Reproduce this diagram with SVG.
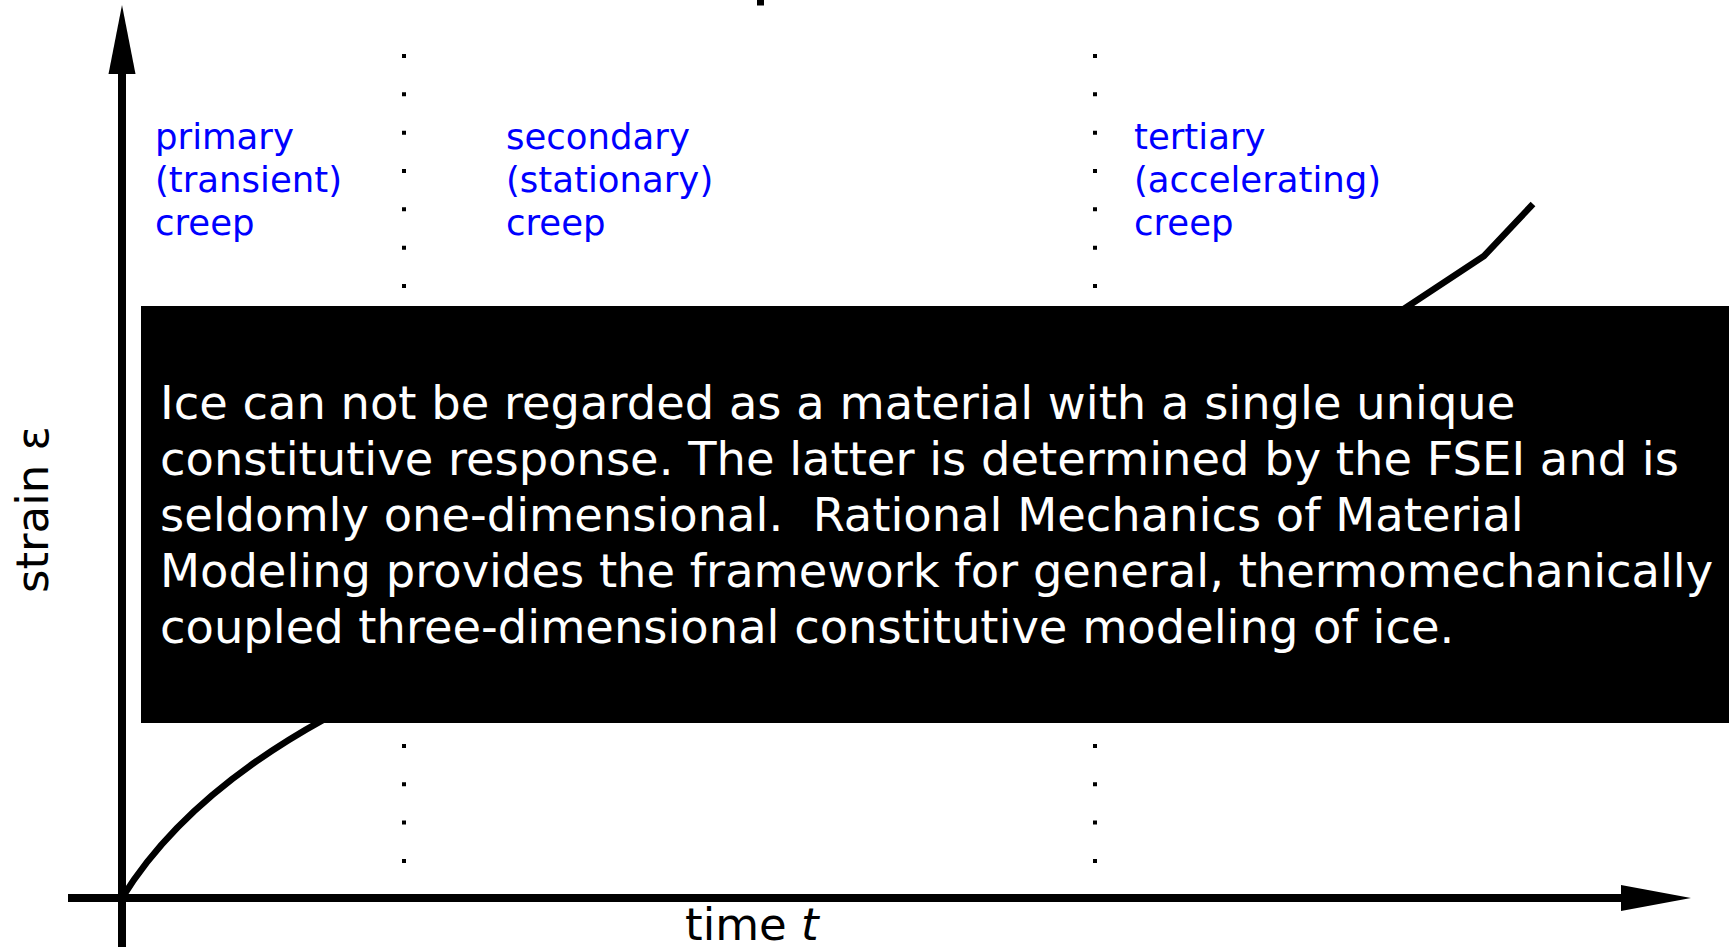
<svg xmlns="http://www.w3.org/2000/svg" width="1729" height="947" viewBox="0 0 1729 947">
  <style>
    .axis { stroke: #000; stroke-width: 8; fill: none; }
    .dots { stroke: #000; stroke-width: 4; stroke-dasharray: 4 34.33; fill: none; }
    .curve { stroke: #000; stroke-width: 6.5; fill: none; stroke-linejoin: miter; }
    .phase { font-family: "DejaVu Sans", "Liberation Sans", sans-serif; font-size: 35.5px; fill: #0000ff; }
    .label { font-family: "DejaVu Sans", "Liberation Sans", sans-serif; font-size: 45px; fill: #000; }
    .note { font-family: "DejaVu Sans", "Liberation Sans", sans-serif; font-size: 46.4px; fill: #fff; white-space: pre; }
  </style>
  <rect width="1729" height="947" fill="#fff"/>

  <!-- clipped mark at the top edge -->
  <rect x="757" y="0" width="7" height="5.5" fill="#000"/>

  <!-- axes -->
  <g id="axes">
    <line class="axis" x1="122" y1="947" x2="122" y2="72"/>
    <polygon points="122,5 108.5,74 135.5,74" fill="#000"/>
    <line class="axis" x1="68" y1="898" x2="1623" y2="898"/>
    <polygon points="1691,898 1621,885 1621,911" fill="#000"/>
    <text class="label" transform="translate(48,593) rotate(-90)">strain ε</text>
    <text class="label" x="685" y="940">time <tspan font-style="italic">t</tspan></text>
  </g>

  <!-- phase boundaries -->
  <g id="boundaries">
    <line class="dots" x1="404" y1="54" x2="404" y2="864"/>
    <line class="dots" x1="1095" y1="54" x2="1095" y2="864"/>
  </g>

  <!-- creep curve -->
  <g id="creep-curve">
    <path class="curve" d="M122,898 C165,828 245,750 404,680 L1095,470 Q1250,400 1372,330 L1484,256 L1533,204"/>
  </g>

  <!-- phase labels -->
  <g id="primary">
    <text class="phase" x="155" y="149">primary</text>
    <text class="phase" x="155" y="192">(transient)</text>
    <text class="phase" x="155" y="235">creep</text>
  </g>
  <g id="secondary">
    <text class="phase" x="506" y="149">secondary</text>
    <text class="phase" x="506" y="192">(stationary)</text>
    <text class="phase" x="506" y="235">creep</text>
  </g>
  <g id="tertiary">
    <text class="phase" x="1134" y="149">tertiary</text>
    <text class="phase" x="1134" y="192">(accelerating)</text>
    <text class="phase" x="1134" y="235">creep</text>
  </g>

  <!-- note panel -->
  <g id="note">
    <rect x="141" y="306" width="1620" height="417" fill="#000"/>
    <text class="note" xml:space="preserve" x="160" y="419">Ice can not be regarded as a material with a single unique</text>
    <text class="note" xml:space="preserve" x="160" y="475">constitutive response. The latter is determined by the FSEI and is</text>
    <text class="note" xml:space="preserve" x="160" y="531">seldomly one-dimensional.  Rational Mechanics of Material</text>
    <text class="note" xml:space="preserve" x="160" y="587">Modeling provides the framework for general, thermomechanically</text>
    <text class="note" xml:space="preserve" x="160" y="643">coupled three-dimensional constitutive modeling of ice.</text>
  </g>
</svg>
